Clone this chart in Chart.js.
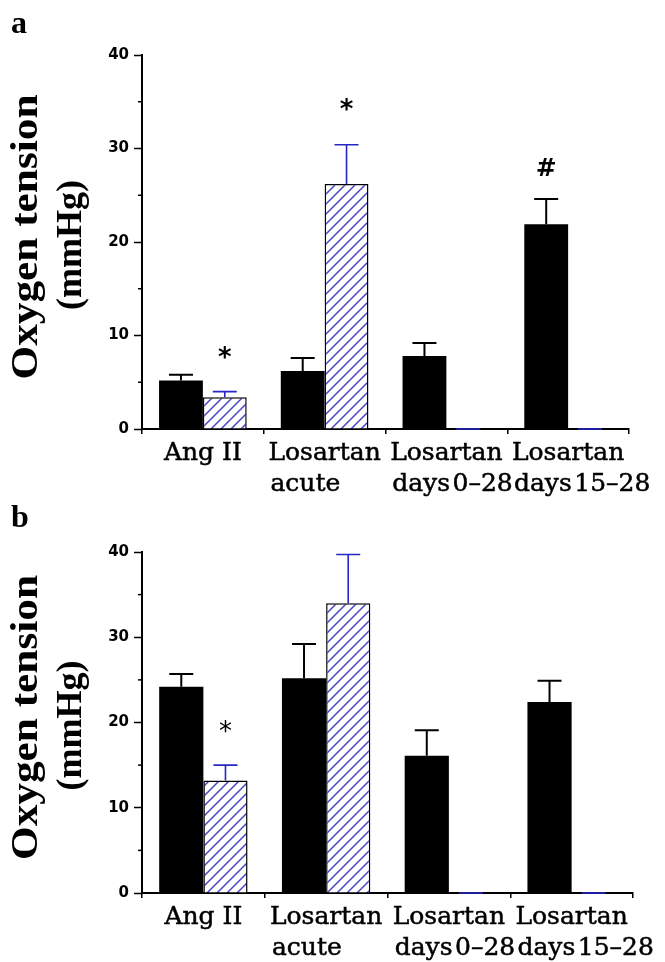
<!DOCTYPE html>
<html><head><meta charset="utf-8">
<script src="https://cdn.jsdelivr.net/npm/chart.js@4.4.1/dist/chart.umd.min.js"></script>
<style>
html,body{margin:0;padding:0;background:#fff;}
#wrap{position:relative;width:665px;height:962px;overflow:hidden;}
canvas{position:absolute;left:0;}
</style></head><body>
<div id="wrap">
<canvas id="ca" width="665" height="510" style="top:0px"></canvas>
<canvas id="cb" width="665" height="472" style="top:490px"></canvas>
</div>
<script>
// ---- data ----
const categories = [['Ang II'], ['Losartan','acute'], ['Losartan','days\u200A0\u201328'], ['Losartan','days\u200A15\u201328']];
const yTickLabels = [0, 10, 20, 30, 40];

const aBlack      = [5.2, 6.2, 7.8, 21.9];
const aBlackSem   = [0.6, 1.4, 1.4, 2.7];
const aHatched    = [3.4, 26.2, 0, 0];
const aHatchedSem = [0.6, 4.2, 0, 0];
const aMarks = [
  {cat: 0, ds: 1, y: 8.2,  text: '*'},
  {cat: 1, ds: 1, y: 34.7, text: '*'},
  {cat: 3, ds: 0, y: 28.0, text: '#'}
];

const bBlack      = [24.2, 25.2, 16.1, 22.4];
const bBlackSem   = [1.5, 4.0, 3.0, 2.5];
const bHatched    = [13.2, 34.0, 0, 0];
const bHatchedSem = [1.8, 5.7, 0, 0];
const bMarks = [
  {cat: 0, ds: 1, y: 19.5, text: '*'}
];

// ---- helpers ----
function hatchPattern(ctx){
  const s = 10;
  const c = document.createElement('canvas'); c.width = s; c.height = s;
  const g = c.getContext('2d');
  g.fillStyle = '#fff'; g.fillRect(0, 0, s, s);
  g.strokeStyle = '#4646c6'; g.lineWidth = 1.5;
  g.beginPath();
  g.moveTo(-1, s + 1); g.lineTo(s + 1, -1);
  g.moveTo(-1, 1); g.lineTo(1, -1);
  g.moveTo(s - 1, s + 1); g.lineTo(s + 1, s - 1);
  g.stroke();
  return ctx.createPattern(c, 'repeat');
}

function drawStretched(ctx, text, cx, baseY, font, targetLen){
  ctx.save();
  ctx.font = font;
  const w = ctx.measureText(text).width;
  const sx = targetLen / w;
  ctx.translate(cx, baseY);
  ctx.scale(sx, 1);
  ctx.textAlign = 'center';
  ctx.textBaseline = 'alphabetic';
  ctx.fillText(text, 0, 0);
  ctx.restore();
}

const overlay = {
  id: 'overlay',
  afterDatasetsDraw(chart, args, o){
    const ctx = chart.ctx, ys = chart.scales.y, area = chart.chartArea;
    ctx.save();
    // minor ticks
    ctx.strokeStyle = '#000'; ctx.lineWidth = 1.5;
    ys.ticks.forEach(t => {
      if (!yTickLabels.includes(t.value)) {
        const py = ys.getPixelForValue(t.value);
        ctx.beginPath(); ctx.moveTo(area.left - 4, py); ctx.lineTo(area.left, py); ctx.stroke();
      }
    });
    // error bars
    o.sems.forEach((sems, di) => {
      const meta = chart.getDatasetMeta(di);
      const vals = chart.data.datasets[di].data;
      ctx.strokeStyle = o.errColors[di]; ctx.lineWidth = o.errWidths[di];
      meta.data.forEach((bar, i) => {
        const top = ys.getPixelForValue(vals[i] + sems[i]);
        const base = ys.getPixelForValue(vals[i]);
        ctx.beginPath();
        if (sems[i] > 0) { ctx.moveTo(bar.x, base); ctx.lineTo(bar.x, top); }
        ctx.moveTo(bar.x - 12, top); ctx.lineTo(bar.x + 12, top);
        ctx.stroke();
      });
    });
    // significance marks
    ctx.fillStyle = '#000';
    o.marks.forEach(m => {
      const bar = chart.getDatasetMeta(m.ds).data[m.cat];
      const py = ys.getPixelForValue(m.y);
      ctx.font = m.text === '#' ? o.hashFont : o.starFont;
      const mt = ctx.measureText(m.text);
      const off = (mt.actualBoundingBoxAscent - mt.actualBoundingBoxDescent) / 2;
      ctx.textAlign = 'center'; ctx.textBaseline = 'alphabetic';
      ctx.fillText(m.text, bar.x, py + off);
    });
    ctx.restore();
  },
  afterDraw(chart, args, o){
    const ctx = chart.ctx, xs = chart.scales.x, area = chart.chartArea;
    ctx.save();
    ctx.fillStyle = '#000';
    ctx.strokeStyle = '#000';
    ctx.lineWidth = 0.5;
    // category labels: first line centred, following lines left aligned to it
    ctx.font = '25px "DejaVu Serif"';
    ctx.textBaseline = 'alphabetic';
    ctx.textAlign = 'left';
    categories.forEach((lines, i) => {
      const cx = xs.getPixelForTick(i);
      const w = ctx.measureText(lines[0]).width;
      lines.forEach((l, k) => {
        const lx = cx - w / 2 + (k > 0 ? 2 : 0), ly = area.bottom + 31 + k * 31;
        ctx.fillText(l, lx, ly);
        ctx.strokeText(l, lx, ly);
      });
    });
    // panel letter
    ctx.font = 'bold 32px "Liberation Serif"';
    ctx.fillText(o.letter, 11, o.letterY);
    // y title
    const mid = (area.top + area.bottom) / 2;
    ctx.save();
    ctx.rotate(-Math.PI / 2);
    drawStretched(ctx, 'Oxygen tension', -(mid - 5), 37, 'bold 38px "Liberation Serif"', 285);
    drawStretched(ctx, '(mmHg)', -(mid + 3), 81, 'bold 36px "Liberation Serif"', 130);
    ctx.restore();
    ctx.restore();
  }
};

function makeChart(id, black, blackSem, hatched, hatchedSem, marks, letter, letterY, padTop, padRight, xHeight){
  const canvas = document.getElementById(id);
  const ctx = canvas.getContext('2d');
  return new Chart(ctx, {
    type: 'bar',
    data: {
      labels: categories.map(c => c.join(' ')),
      datasets: [
        { data: black, backgroundColor: '#000', borderColor: '#000', borderWidth: 0,
          categoryPercentage: 0.72, barPercentage: 1.0 },
        { data: hatched, backgroundColor: hatchPattern(ctx), borderColor: '#000', borderWidth: 1.5,
          categoryPercentage: 0.72, barPercentage: 1.0 }
      ]
    },
    options: {
      responsive: false,
      animation: false,
      devicePixelRatio: 1,
      layout: { padding: { top: padTop, right: padRight, bottom: 0, left: 0 } },
      plugins: {
        legend: { display: false },
        tooltip: { enabled: false },
        overlay: {
          sems: [blackSem, hatchedSem],
          errColors: ['#000', '#2626c4'],
          errWidths: [2, 1.6],
          marks: marks,
          starFont: letter === 'a' ? 'bold 26px "DejaVu Sans"' : '26px "DejaVu Sans"',
          hashFont: 'bold 25px "DejaVu Sans"',
          letter: letter,
          letterY: letterY
        }
      },
      scales: {
        x: {
          type: 'category',
          offset: true,
          grid: { display: true, drawOnChartArea: false, drawTicks: true, tickLength: 5,
                  color: '#000', lineWidth: 1.5, offset: true },
          border: { display: true, color: '#000', width: 2 },
          ticks: { display: false },
          afterFit: s => { s.height = xHeight; }
        },
        y: {
          min: 0, max: 40,
          ticks: {
            stepSize: 5,
            color: '#000',
            font: { family: 'DejaVu Sans', size: 15, weight: 'bold' },
            padding: 5,
            callback: v => yTickLabels.includes(v) ? String(v) : ''
          },
          grid: { display: true, drawOnChartArea: false, drawTicks: true, tickLength: 8,
                  tickWidth: 1.5,
                  tickColor: c => (c.tick && yTickLabels.includes(c.tick.value)) ? '#000' : 'rgba(0,0,0,0)' },
          border: { display: true, color: '#000', width: 2 },
          afterFit: s => { s.width = 142; }
        }
      }
    },
    plugins: [overlay]
  });
}

function build(){
  makeChart('ca', aBlack, aBlackSem, aHatched, aHatchedSem, aMarks, 'a', 33, 55, 36, 81);
  makeChart('cb', bBlack, bBlackSem, bHatched, bHatchedSem, bMarks, 'b', 37, 62, 32, 69);
}
const fontLoads = [
  'bold 38px "Liberation Serif"', 'bold 32px "Liberation Serif"',
  '25px "DejaVu Serif"', 'bold 15px "DejaVu Sans"', '26px "DejaVu Sans"'
].map(f => document.fonts.load(f));
Promise.all(fontLoads).then(build, build);
</script>
</body></html>
